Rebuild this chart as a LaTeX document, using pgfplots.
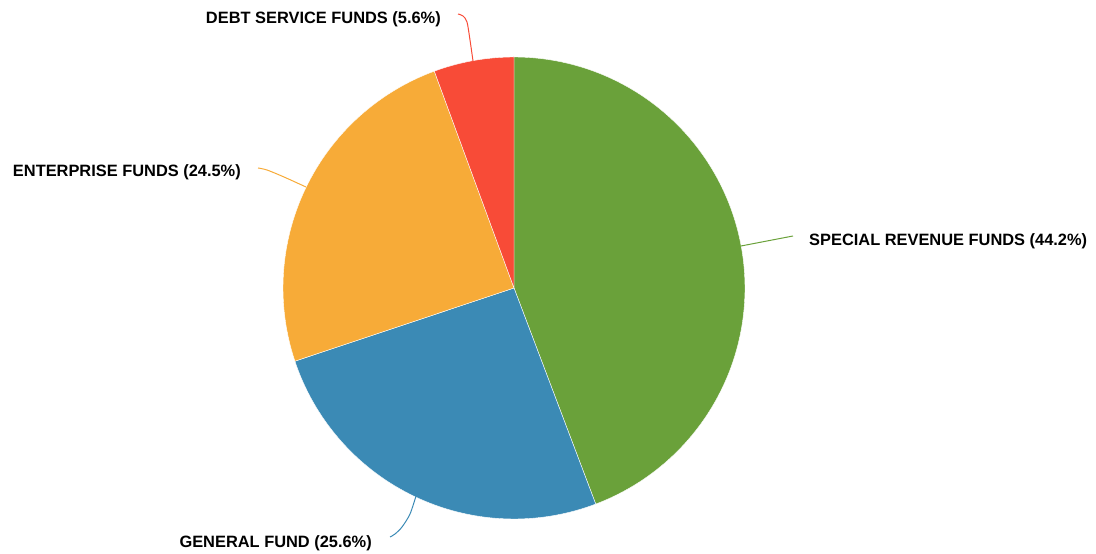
\documentclass[border=0pt]{standalone}
\usepackage{fontspec}
\setmainfont{Liberation Sans}
\usepackage{pgfplots}
\pgfplotsset{compat=1.18}
\definecolor{cGreen}{HTML}{6AA13A}
\definecolor{cBlue}{HTML}{3B8AB5}
\definecolor{cOrange}{HTML}{F7AB38}
\definecolor{cRed}{HTML}{F84B37}
% shares (percent)
\def\pA{44.2}\def\pB{25.6}\def\pC{24.5}\def\pD{5.6}
\pgfmathsetmacro{\tot}{\pA+\pB+\pC+\pD}
\pgfmathsetmacro{\aA}{90}
\pgfmathsetmacro{\aB}{\aA-\pA/\tot*360}
\pgfmathsetmacro{\aC}{\aB-\pB/\tot*360}
\pgfmathsetmacro{\aD}{\aC-\pC/\tot*360}
\pgfmathsetmacro{\aE}{\aD-\pD/\tot*360}
\def\cx{514}\def\cy{266}\def\R{231}
\begin{document}
\begin{tikzpicture}
\begin{axis}[
  width=1096pt, height=554pt, scale only axis,
  xmin=0, xmax=1096, ymin=0, ymax=554,
  hide axis, clip=false,
]
\path (rel axis cs:0,0) rectangle (rel axis cs:1,1);
\addplot[fill=cGreen, draw=white, line width=0.4pt, domain=\aB:\aA, samples=120, variable=\t]
  ({\cx+\R*cos(\t)},{\cy+\R*sin(\t)}) -- (axis cs:\cx,\cy) -- cycle;
\addplot[fill=cBlue, draw=white, line width=0.4pt, domain=\aC:\aB, samples=80, variable=\t]
  ({\cx+\R*cos(\t)},{\cy+\R*sin(\t)}) -- (axis cs:\cx,\cy) -- cycle;
\addplot[fill=cOrange, draw=white, line width=0.4pt, domain=\aD:\aC, samples=80, variable=\t]
  ({\cx+\R*cos(\t)},{\cy+\R*sin(\t)}) -- (axis cs:\cx,\cy) -- cycle;
\addplot[fill=cRed, draw=white, line width=0.4pt, domain=\aE:\aD, samples=30, variable=\t]
  ({\cx+\R*cos(\t)},{\cy+\R*sin(\t)}) -- (axis cs:\cx,\cy) -- cycle;
% leader lines
\addplot[cGreen, line width=1pt] coordinates {(741,308) (793,318)};
\addplot[cBlue, line width=1pt, smooth] coordinates {(416,58) (410,40) (402,27) (395,20) (390,17)};
\addplot[cOrange, line width=1pt, smooth] coordinates {(306,367) (284,377) (267,384) (258,386)};
\addplot[cRed, line width=1pt, smooth] coordinates {(473,493) (470,514) (467,532) (463,538) (458,540)};
% labels
\node[anchor=base west, inner sep=0pt, font=\fontsize{16.4}{19}\selectfont\bfseries] at (axis cs:809,308) {SPECIAL REVENUE FUNDS (44.2\%)};
\node[anchor=base east, inner sep=0pt, font=\fontsize{16.4}{19}\selectfont\bfseries] at (axis cs:372,6) {GENERAL FUND (25.6\%)};
\node[anchor=base east, inner sep=0pt, font=\fontsize{16.4}{19}\selectfont\bfseries] at (axis cs:241,377) {ENTERPRISE FUNDS (24.5\%)};
\node[anchor=base east, inner sep=0pt, font=\fontsize{16.4}{19}\selectfont\bfseries] at (axis cs:441,530) {DEBT SERVICE FUNDS (5.6\%)};
\end{axis}
\end{tikzpicture}
\end{document}
